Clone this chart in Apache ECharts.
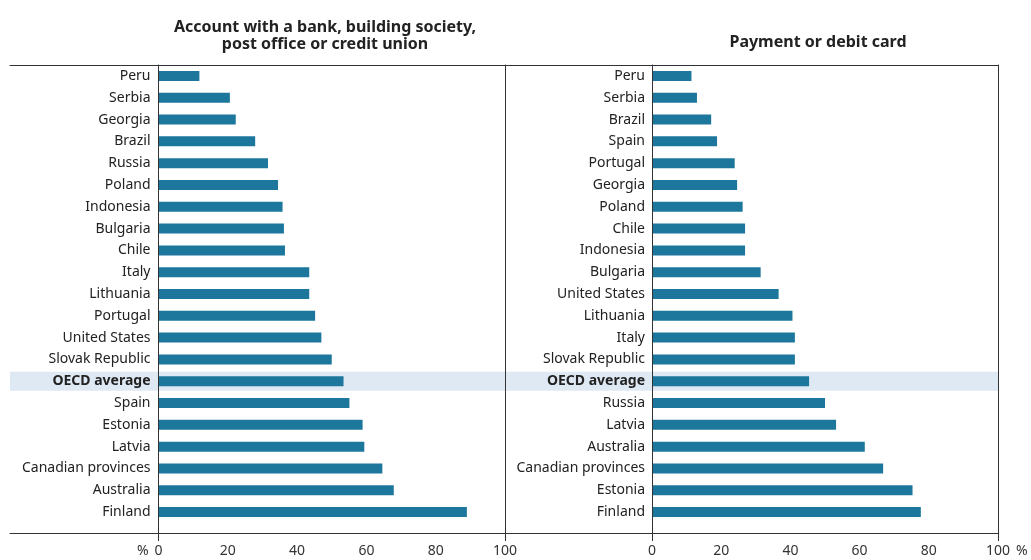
<!DOCTYPE html>
<html>
<head>
<meta charset="utf-8">
<script src="https://cdn.jsdelivr.net/npm/echarts@6/dist/echarts.min.js"></script>
<style>html,body{margin:0;padding:0;background:#fff}#c{width:1031px;height:560px}</style>
</head>
<body>
<div id="c"></div>
<script>
// ---- data ----
const leftTitle = 'Account with a bank, building society,\npost office or credit union';
const rightTitle = 'Payment or debit card';
const leftCategories = ['Peru','Serbia','Georgia','Brazil','Russia','Poland','Indonesia','Bulgaria','Chile','Italy','Lithuania','Portugal','United States','Slovak Republic','OECD average','Spain','Estonia','Latvia','Canadian provinces','Australia','Finland'];
const leftValues = [11.8,20.6,22.3,27.9,31.6,34.5,35.8,36.2,36.5,43.5,43.5,45.2,47.0,50.0,53.4,55.1,58.9,59.4,64.6,67.9,89.0];
const rightCategories = ['Peru','Serbia','Brazil','Spain','Portugal','Georgia','Poland','Chile','Indonesia','Bulgaria','United States','Lithuania','Italy','Slovak Republic','OECD average','Russia','Latvia','Australia','Canadian provinces','Estonia','Finland'];
const rightValues = [11.4,13.0,17.1,18.8,23.9,24.6,26.2,26.9,26.9,31.4,36.6,40.6,41.3,41.3,45.4,50.0,53.2,61.5,66.8,75.3,77.7];
const highlightName = 'OECD average';
const xTicks = [0,20,40,60,80,100];

const FONT = 'Noto Sans';
const BAR = '#1d779d';
const LINE = '#333';

function catLabel(v){ return v === highlightName ? '{hb|' + v + '}' : '{hn|' + v + '}'; }
const richLabel = {
  hn:{fontFamily:FONT,fontSize:14,color:'#222'},
  hb:{fontFamily:FONT,fontSize:14,color:'#222',fontWeight:'bold'}
};
const hidden = {show:false};
function lineAxis(extra){
  return Object.assign({type:'value',min:0,max:1,axisLine:{show:true,onZero:false,lineStyle:{color:LINE,width:1}},axisTick:hidden,axisLabel:hidden,splitLine:hidden,z:5}, extra);
}
function valueAxis(gridIndex, nameCfg){
  return Object.assign({
    type:'value',gridIndex:gridIndex,min:xTicks[0],max:xTicks[xTicks.length-1],interval:xTicks[1]-xTicks[0],position:'bottom',z:3,
    axisLine:{show:true,onZero:false,lineStyle:{color:LINE,width:1}},
    axisTick:{show:true,customValues:[xTicks[0],xTicks[xTicks.length-1]],length:8,lineStyle:{color:LINE}},
    axisLabel:{fontFamily:FONT,fontSize:14,color:'#333',margin:11},
    splitLine:{show:true,lineStyle:{color:'#999',type:[2,2],width:1}}
  }, nameCfg);
}

const option = {
  animation:false,
  backgroundColor:'#fff',
  textStyle:{fontFamily:FONT},
  title:[
    {text:leftTitle,left:320,top:14,textAlign:'center',textStyle:{fontFamily:FONT,fontSize:16,fontWeight:'bold',color:'#222',lineHeight:17}},
    {text:rightTitle,left:813,top:29,textAlign:'center',textStyle:{fontFamily:FONT,fontSize:16,fontWeight:'bold',color:'#222',lineHeight:17}}
  ],
  grid:[
    {left:10,right:33,top:65,bottom:37},      // 0 band
    {left:10,right:33,top:65,bottom:27},      // 1 frame
    {left:158.5,right:526,top:65,bottom:27},  // 2 left axis
    {left:158.5,right:526,top:65,bottom:37},  // 3 left bars
    {left:652,right:33,top:65,bottom:27},     // 4 right axis
    {left:652,right:33,top:65,bottom:37}      // 5 right bars
  ],
  xAxis:[
    {type:'value',gridIndex:0,min:0,max:1,show:false},
    lineAxis({gridIndex:1,position:'top'}),
    lineAxis({gridIndex:1,position:'bottom'}),
    valueAxis(2,{name:'%',nameLocation:'start',nameGap:2,nameTextStyle:{fontFamily:FONT,fontSize:14,color:'#333',verticalAlign:'top',padding:[11,0,0,0]}}),
    {type:'value',gridIndex:3,min:0,max:100,show:false},
    valueAxis(4,{name:'%',nameLocation:'end',nameGap:10,nameTextStyle:{fontFamily:FONT,fontSize:14,color:'#333',align:'left',verticalAlign:'top',padding:[11,0,0,0]}}),
    {type:'value',gridIndex:5,min:0,max:100,show:false}
  ],
  yAxis:[
    {type:'category',gridIndex:0,data:leftCategories,inverse:true,show:false},
    lineAxis({gridIndex:1,position:'right'}),
    lineAxis({gridIndex:2,position:'left'}),
    lineAxis({gridIndex:2,position:'right'}),
    {type:'category',gridIndex:3,data:leftCategories,inverse:true,z:6,axisLine:hidden,axisTick:hidden,
      axisLabel:{margin:8,formatter:catLabel,rich:richLabel}},
    lineAxis({gridIndex:4,position:'left'}),
    {type:'category',gridIndex:5,data:rightCategories,inverse:true,z:6,axisLine:hidden,axisTick:hidden,
      axisLabel:{margin:7,formatter:catLabel,rich:richLabel}}
  ],
  series:[
    {type:'bar',xAxisIndex:0,yAxisIndex:0,silent:true,z:1,barWidth:19,itemStyle:{color:'#dfe9f4'},
      data:leftCategories.map(c => c === highlightName ? 1 : '-')},
    {type:'bar',xAxisIndex:4,yAxisIndex:4,z:4,barWidth:10,itemStyle:{color:BAR},data:leftValues},
    {type:'bar',xAxisIndex:6,yAxisIndex:6,z:4,barWidth:10,itemStyle:{color:BAR},data:rightValues}
  ]
};
const chart = echarts.init(document.getElementById('c'), null, {renderer:'canvas'});
chart.setOption(option);
</script>
</body>
</html>
